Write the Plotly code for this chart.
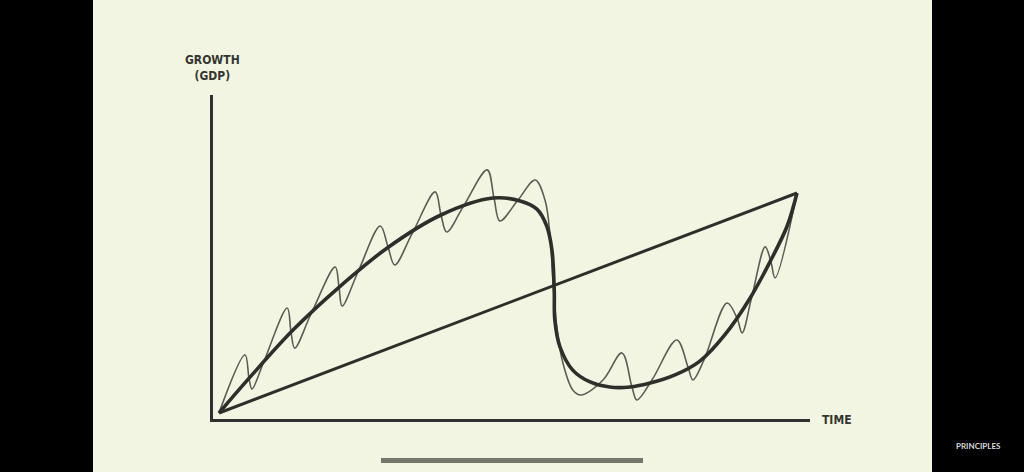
import plotly.graph_objects as go

# ---- data (time t: 0..100, growth g: 0..100) ----
trend_t = [0, 100]
trend_g = [0, 100]

cycle_t = [0, 5.4, 12.8, 20.6, 29.1, 38.4, 47.4, 52.1, 55.0, 56.7, 57.6, 58.0, 58.1,
           59.0, 61.2, 64.2, 67.6, 71.1, 74.6, 78.9, 83.2, 87.5, 91.9, 95.3, 98.3, 100]
cycle_g = [0, 16.4, 37.7, 56.8, 75.0, 90.0, 97.7, 96.4, 92.7, 85.0, 74.1, 55.9, 42.3,
           30.0, 19.5, 14.1, 11.8, 11.8, 13.6, 17.3, 23.6, 35.5, 52.3, 68.6, 85.0, 100]

short_t = [0, 4.5, 5.19, 5.7, 7.61, 11.8, 12.46, 13.1, 15.92, 20.1, 20.76, 21.3, 24.05,
           27.9, 29.24, 30.4, 33.39, 37.4, 38.41, 39.4, 42.21, 46.4, 47.58, 48.6, 51.73,
           54.7, 56.4, 57.3, 57.8, 58.5, 59.5, 61.2, 62.6, 66.44, 69.7, 71.45, 72.3,
           74.91, 79.2, 81.14, 82.0, 83.91, 87.9, 89.62, 90.5, 92.21, 94.5, 95.5, 96.2, 100]
short_g = [0, 26.4, 15.9, 10.9, 22.3, 47.7, 36.8, 29.5, 45.0, 66.4, 57.3, 48.6, 64.1,
           85.0, 75.5, 67.3, 81.4, 100.5, 90.0, 82.3, 93.6, 110.5, 97.7, 87.3, 96.8,
           105.9, 96.8, 80.0, 59.1, 37.7, 22.7, 10.5, 8.2, 15.0, 27.3, 11.8, 5.9,
           15.0, 33.2, 20.9, 15.0, 24.1, 50.0, 43.2, 36.4, 53.2, 75.5, 68.6, 61.4, 100]

y_label = "GROWTH<br>(GDP)"
x_label = "TIME"
brand = "PRINCIPLES"

# ---- layout geometry (pixels) ----
W, H = 1024, 472
PL, PR, PT, PB = 213, 810, 95, 419          # plot area (axes)
OX, OY = 219, 413                            # data origin in pixels
SX, SY = 5.78, 2.2                           # pixels per data unit

x_range = [(PL - OX) / SX, (PR - OX) / SX]
y_range = [(OY - PB) / SY, (OY - PT) / SY]


def px(xp):
    return (xp - PL) / (PR - PL)


def py(yp):
    return (PB - yp) / (PB - PT)


BG = "#F3F5E3"
INK = "#2E2F2A"

fig = go.Figure()
fig.add_trace(go.Scatter(x=short_t, y=short_g, mode="lines",
                         line=dict(color="#5C5D54", width=1.6, shape="spline", smoothing=1.0),
                         hoverinfo="skip"))
fig.add_trace(go.Scatter(x=trend_t, y=trend_g, mode="lines",
                         line=dict(color=INK, width=3),
                         hoverinfo="skip"))
fig.add_trace(go.Scatter(x=cycle_t, y=cycle_g, mode="lines",
                         line=dict(color=INK, width=3.6, shape="spline", smoothing=1.0),
                         hoverinfo="skip"))

shapes = [
    dict(type="rect", xref="paper", yref="paper", x0=px(0), x1=px(93), y0=py(H), y1=py(0),
         fillcolor="black", line=dict(width=0), layer="above"),
    dict(type="rect", xref="paper", yref="paper", x0=px(932), x1=px(W), y0=py(H), y1=py(0),
         fillcolor="black", line=dict(width=0), layer="above"),
    dict(type="rect", xref="paper", yref="paper", x0=px(381), x1=px(643), y0=py(463), y1=py(458),
         fillcolor="#76776B", line=dict(width=0), layer="above"),
]

font_label = dict(family="DejaVu Sans Condensed, Liberation Sans Narrow, sans-serif",
                  size=12, color="#35362F")

annotations = [
    dict(text="<b>" + y_label + "</b>", xref="paper", yref="paper", x=px(212), y=py(68),
         showarrow=False, font=font_label, align="center", xanchor="center", yanchor="middle"),
    dict(text="<b>" + x_label + "</b>", xref="paper", yref="paper", x=px(837), y=py(420),
         showarrow=False, font=font_label, xanchor="center", yanchor="middle"),
    dict(text="<b>" + brand + "</b>", xref="paper", yref="paper", x=px(978), y=py(446),
         showarrow=False, font=dict(family="Lato, Noto Sans, sans-serif", size=8, color="#D9D9D9"),
         xanchor="center", yanchor="middle"),
]

fig.update_layout(
    width=W, height=H,
    margin=dict(l=PL, r=W - PR, t=PT, b=H - PB, pad=0),
    paper_bgcolor=BG, plot_bgcolor=BG,
    showlegend=False,
    shapes=shapes, annotations=annotations,
    xaxis=dict(range=x_range, showgrid=False, zeroline=False, showticklabels=False, ticks="",
               showline=True, linecolor="#303030", linewidth=3, fixedrange=True),
    yaxis=dict(range=y_range, showgrid=False, zeroline=False, showticklabels=False, ticks="",
               showline=True, linecolor="#303030", linewidth=3, fixedrange=True),
)

fig.write_html("out.html", config=dict(displayModeBar=False),
               post_script="document.body.style.margin='0';document.body.style.background='black';")
